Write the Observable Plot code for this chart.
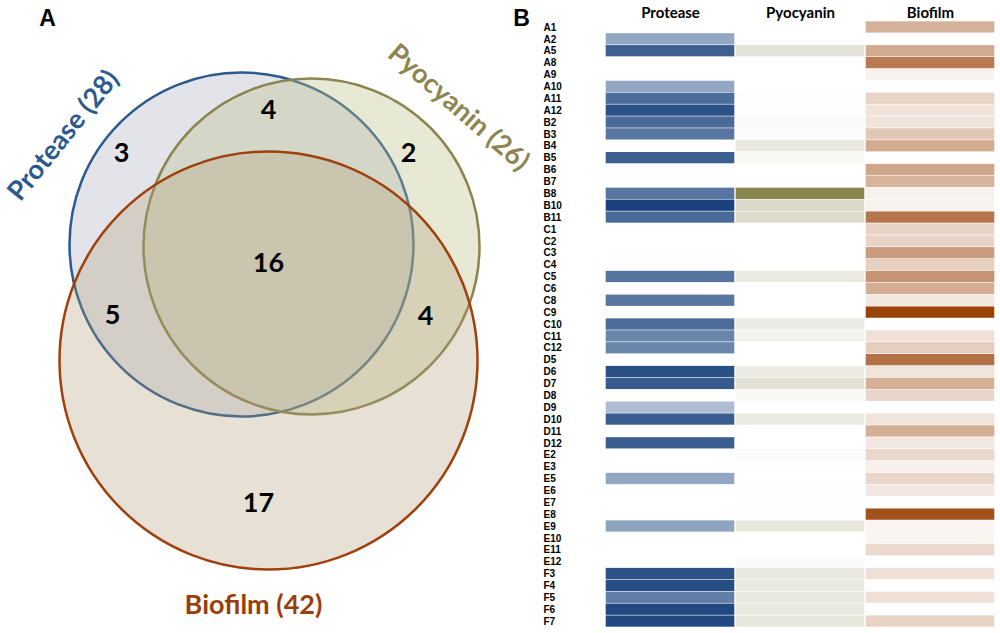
<!DOCTYPE html>
<html><head><meta charset="utf-8">
<script src="https://cdn.jsdelivr.net/npm/d3@7"></script>
<script src="https://cdn.jsdelivr.net/npm/@observablehq/plot@0.6"></script>
<style>
body{margin:0;background:#fff}
#wrap{display:flex;width:1000px;height:633px;overflow:hidden}
#wrap svg{display:block}
</style>
</head><body><div id="wrap"></div>
<script>
// ---------- Panel B data ----------
const strains = ["A1","A2","A5","A8","A9","A10","A11","A12","B2","B3","B4","B5","B6","B7","B8","B10","B11","C1","C2","C3","C4","C5","C6","C8","C9","C10","C11","C12","D5","D6","D7","D8","D9","D10","D11","D12","E2","E3","E5","E6","E7","E8","E9","E10","E11","E12","F3","F4","F5","F6","F7"];
const assays = ["Protease","Pyocyanin","Biofilm"];
const protease = [0,.47,.84,0,0,.47,.78,.92, .79,.73,0,.85,0,0,.73,1,.79, 0,0,0,0,.74,0,.73,0,.78,.65,.65, 0,.93,.87,0,.35,.86,0,.86, 0,0,.47,0,0,0,.49,0,0,0, .92,.95,.68,.97,.97];
const pyocyanin = [0,0,.23,0,0,0,.02,.01, .04,.03,.19,.06,0,0,1,.31,.29, 0,0,0,0,.17,0,0,0,.16,.10,0, 0,.16,.25,.06,0,.17,0,0, .04,.02,0,.01,.02,0,.2,0,0,.04, .18,.19,.18,.19,.2];
const biofilm = [.41,0,.45,.7,.07,0,.23,.15, .15,.29,.45,0,.47,.40,.07,.07,.73, .24,.23,.53,.25,.57,.43,.13,1,0,.16,.26, .75,.14,.42,.22,0,.14,.42,.12, .21,.08,.21,.12,0,.92,.05,.06,.2,0, .16,0,.16,0,.24];

// ---------- Panel A data ----------
const setNames = ["Protease","Pyocyanin","Biofilm"];
const setSizes = [28, 26, 42];
const regionCounts = [3, 4, 2, 16, 5, 4, 17]; // P only, P∩Y, Y only, P∩Y∩B, P∩B, Y∩B, B only

// layout (pixel space of panel A)
const circleLayout = [
  {cx: 241, cy: 244, r: 172},
  {cx: 311, cy: 246, r: 168},
  {cx: 268, cy: 360, r: 209}
];
const regionLayout = [[121,153],[268,110],[408,153],[268,263],[112,315],[425,316],[258,503]];
const labelLayout = [{x: 63, y: 135, rotate: -51}, {x: 458, y: 107, rotate: 41}, {x: 253, y: 605, rotate: 0}];

const circleFill = ["#6e7896", "#bac087", "#b09c74"];
const circleFillOpacity = [0.2, 0.35, 0.3];
const circleStroke = ["#2d5a8e", "#8c8450", "#a0400c"];
const labelColor = ["#2c5a8e", "#8c8550", "#9a3d0a"];
const heatColor = ["#1a437d", "#8b8550", "#9b4208"];

const circles = setNames.map((s, i) => ({set: s, ...circleLayout[i]}));
const regions = regionCounts.map((c, i) => ({x: regionLayout[i][0], y: regionLayout[i][1], text: String(c)}));
const setLabels = setNames.map((s, i) => ({...labelLayout[i], text: `${s} (${setSizes[i]})`}));

const vennMarks = [];
circles.forEach((c, i) => {
  vennMarks.push(Plot.dot([c], {x: "cx", y: "cy", r: "r", fill: circleFill[i], fillOpacity: circleFillOpacity[i], stroke: circleStroke[i], strokeWidth: 2.5}));
});
vennMarks.push(Plot.text(regions, {x: "x", y: "y", text: "text", fontSize: 27, fontWeight: "bold", fontFamily: "Lato", fill: "#000"}));
setLabels.forEach((l, i) => {
  vennMarks.push(Plot.text([l], {x: "x", y: "y", text: "text", rotate: l.rotate, fontSize: 27, fontWeight: "bold", fontFamily: "Lato", fill: labelColor[i]}));
});
vennMarks.push(Plot.text([{x: 47, y: 18, t: "A"}, {x: 521, y: 18, t: "B"}], {x: "x", y: "y", text: "t", fontSize: 23, fontWeight: "bold", fontFamily: "Liberation Sans", fill: "#000"}));

const venn = Plot.plot({
  width: 540, height: 633, margin: 0,
  x: {domain: [0, 540], range: [0, 540], axis: null},
  y: {domain: [0, 633], range: [0, 633], axis: null},
  r: {type: "identity"},
  style: {background: "#fff", overflow: "visible"},
  marks: vennMarks
});

// ---------- heatmap ----------
const cells = strains.flatMap((s, i) => [
  {strain: s, assay: "Protease", value: protease[i]},
  {strain: s, assay: "Pyocyanin", value: pyocyanin[i]},
  {strain: s, assay: "Biofilm", value: biofilm[i]}
]);
const heatMarks = assays.map((a, i) => Plot.cell(cells.filter(d => d.assay === a), {
  x: "assay", y: "strain", fill: heatColor[i], fillOpacity: "value", insetLeft: 0.7, insetRight: 0.7, insetTop: 0.3, insetBottom: 0.3
}));
heatMarks.push(Plot.axisX({anchor: "top", tickSize: 0, tickPadding: 4, label: null, fontSize: 15, fontWeight: "bold", fontFamily: "Lato", fill: "#000"}));
heatMarks.push(Plot.axisY({anchor: "left", tickSize: 0, label: null, textAnchor: "start", dx: -52, fontSize: 10, fontWeight: "bold", fontFamily: "Liberation Sans", fill: "#000"}));

const heat = Plot.plot({
  width: 460, height: 633, marginLeft: 64, marginRight: 5, marginTop: 21, marginBottom: 6,
  x: {domain: assays, padding: 0},
  y: {domain: strains, padding: 0},
  opacity: {domain: [0, 1], range: [0, 1]},
  style: {background: "#fff", overflow: "visible"},
  marks: heatMarks
});

document.getElementById("wrap").append(venn, heat);
</script>
</body></html>
